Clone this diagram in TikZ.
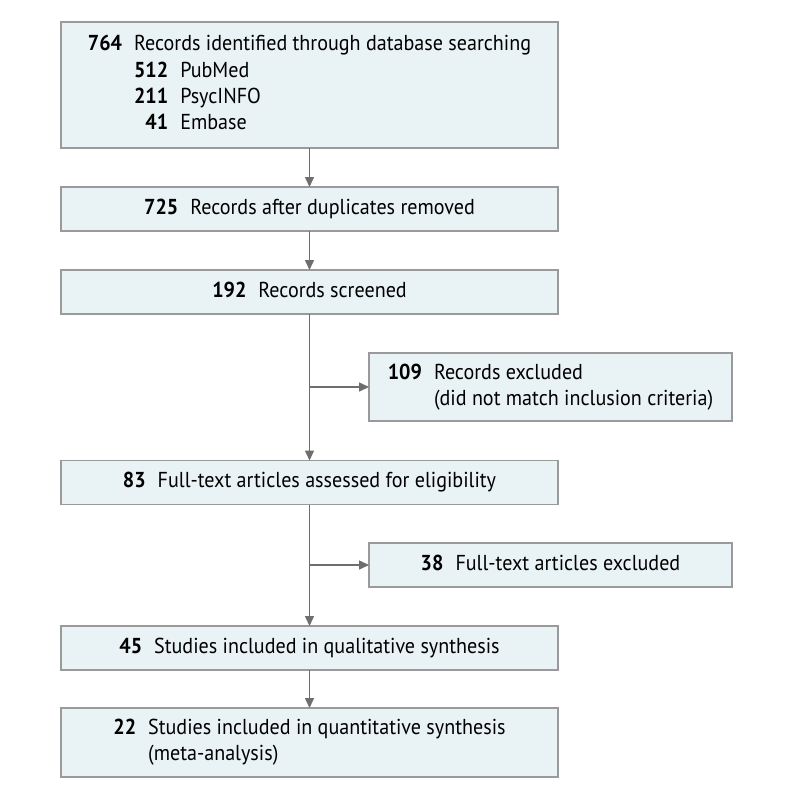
\documentclass[tikz,border=0pt]{standalone}
\usepackage{fontspec}
\setmainfont[FakeStretch=0.93]{PT Sans}
\usetikzlibrary{arrows.meta}
\definecolor{boxfill}{HTML}{E9F2F5}
\definecolor{boxline}{HTML}{9A9A9A}
\definecolor{arrowgray}{HTML}{6E6E6E}
\newcommand{\numtxt}[2]{\begin{tabular}{@{}r@{\hspace{6pt}}l@{}}\textbf{#1} & #2\end{tabular}}
\begin{document}
\begin{tikzpicture}[x=0.5pt,y=-0.5pt,
        every node/.style={font=\fontsize{10.8}{13.2}\selectfont},
        box/.style={draw=boxline, line width=0.75pt, fill=boxfill, outer sep=0pt,
            minimum width=248.5pt, minimum height=22pt, inner sep=0pt},
        sidebox/.style={box, minimum width=181.5pt},
        arr/.style={draw=arrowgray, line width=0.75pt,
            -{Triangle[length=5pt,width=4.5pt]}}]
        \useasboundingbox (0,0) rectangle (794,797);
        \node[box, minimum height=63pt] (ident) at (309.5,85)
            {\begin{tabular}{@{}r@{\hspace{6pt}}l@{}}
                \textbf{764} & Records identified through database searching\\
                & \begin{tabular}[t]{@{}r@{\hspace{6pt}}l@{}}
                    \textbf{512} & PubMed\\
                    \textbf{211} & PsycINFO\\
                    \textbf{41} & Embase
                \end{tabular}
            \end{tabular}};
        \node[box] (dupl) at (309.5,209) {\numtxt{725}{Records after duplicates removed}};
        \node[box] (screen) at (309.5,292) {\numtxt{192}{Records screened}};
        \node[sidebox, minimum height=34pt] (excl) at (550.5,387)
            {\begin{tabular}{@{}r@{\hspace{6pt}}l@{}}
                \textbf{109} & Records excluded\\
                & (did not match inclusion criteria)
            \end{tabular}};
        \node[box] (elig) at (309.5,482.5) {\numtxt{83}{Full-text articles assessed for eligibility}};
        \node[sidebox] (ftexcl) at (550.5,565) {\numtxt{38}{Full-text articles excluded}};
        \node[box] (qual) at (309.5,648) {\numtxt{45}{Studies included in qualitative synthesis}};
        \node[box, minimum height=34.5pt] (quant) at (309.5,742.5)
            {\begin{tabular}{@{}r@{\hspace{6pt}}l@{}}
                \textbf{22} & Studies included in quantitative synthesis\\
                & (meta-analysis)
            \end{tabular}};
        \draw[arr] (ident) -- (dupl);
        \draw[arr] (dupl) -- (screen);
        \draw[arr] (screen) -- (elig);
        \draw[arr] (screen.south |- excl.west) -- (excl.west);
        \draw[arr] (elig) -- (qual);
        \draw[arr] (elig.south |- ftexcl.west) -- (ftexcl.west);
        \draw[arr] (qual) -- (quant);
    \end{tikzpicture}
\end{document}
